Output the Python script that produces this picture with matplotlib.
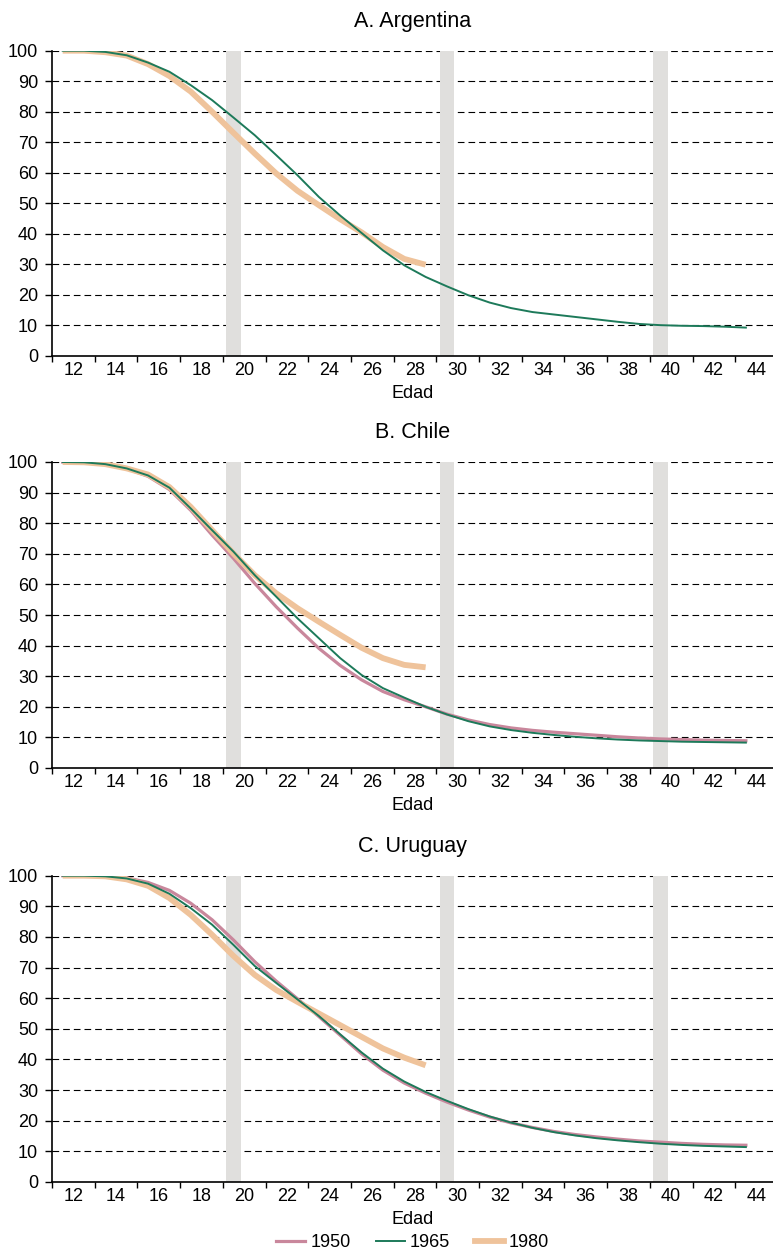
import matplotlib
matplotlib.use("Agg")
import matplotlib.pyplot as plt
from matplotlib.lines import Line2D

plt.rcParams['font.family'] = ['Liberation Sans', 'DejaVu Sans']

edades = list(range(12, 45))          # 12..44
edades_1980 = list(range(12, 30))     # 12..29
barras = [20, 30, 40]

# A. Argentina
arg_1965 = [100, 100, 99.6, 98.5, 96.1, 93.1, 88.7, 83.8, 78.1, 72.3, 65.8, 59.2,
            52.1, 46.0, 40.3, 34.6, 29.7, 25.9, 22.8, 19.9, 17.5, 15.7, 14.4, 13.6,
            12.8, 12.0, 11.2, 10.5, 10.1, 9.9, 9.8, 9.6, 9.3]
arg_1980 = [100, 100, 99.5, 98.4, 95.6, 91.7, 86.6, 80.0, 73.1, 66.3, 59.8, 54.1,
            49.4, 44.8, 40.5, 35.7, 31.8, 29.9]

# B. Chile
chi_1950 = [100, 99.9, 99.3, 97.8, 95.3, 91.0, 84.2, 76.1, 68.5, 60.3, 52.7, 45.7,
            39.1, 33.5, 28.8, 25.0, 22.3, 20.0, 17.6, 15.7, 14.2, 13.1, 12.3, 11.7,
            11.2, 10.7, 10.2, 9.8, 9.5, 9.3, 9.1, 9.0, 8.9]
chi_1965 = [100, 99.9, 99.3, 97.9, 95.6, 91.6, 84.8, 77.7, 70.7, 63.0, 56.0, 48.9,
            42.4, 35.9, 30.4, 26.1, 23.0, 20.0, 17.5, 15.3, 13.6, 12.4, 11.5, 10.8,
            10.2, 9.7, 9.3, 9.0, 8.8, 8.6, 8.5, 8.4, 8.3]
chi_1980 = [100, 99.9, 99.3, 97.9, 95.9, 91.8, 85.3, 77.7, 70.1, 63.0, 57.1, 52.2,
            47.8, 43.5, 39.3, 35.9, 33.7, 32.9]

# C. Uruguay
uru_1950 = [100, 100, 99.8, 99.3, 97.8, 95.2, 91.0, 85.6, 79.0, 71.9, 65.6, 59.8,
            54.0, 47.9, 41.8, 36.5, 32.3, 29.0, 26.1, 23.5, 21.2, 19.3, 17.8, 16.5,
            15.5, 14.7, 14.0, 13.4, 13.0, 12.6, 12.3, 12.1, 12.0]
uru_1965 = [100, 100, 99.8, 99.1, 97.4, 94.1, 89.4, 84.0, 77.4, 70.5, 65.0, 59.6,
            54.2, 48.2, 42.3, 37.0, 32.8, 29.4, 26.5, 23.8, 21.4, 19.4, 17.7, 16.3,
            15.2, 14.3, 13.6, 13.0, 12.5, 12.1, 11.8, 11.6, 11.4]
uru_1980 = [100, 100, 99.8, 98.8, 96.7, 92.7, 87.2, 80.7, 73.8, 67.6, 62.7, 58.8,
            55.0, 51.2, 47.4, 43.6, 40.6, 38.1]

paneles = [
    ("A. Argentina", None, arg_1965, arg_1980),
    ("B. Chile", chi_1950, chi_1965, chi_1980),
    ("C. Uruguay", uru_1950, uru_1965, uru_1980),
]

c_1950 = '#c9879c'
c_1965 = '#1d7a5a'
c_1980 = '#efc39b'
c_barra = '#e0dfdd'

W, H = 773, 1252
fig = plt.figure(figsize=(W / 100, H / 100), dpi=100)

# (top, bottom) pixel positions of each panel
pos = [(50.7, 356), (462, 768), (875.7, 1182)]
left, right = 52, 773

for (titulo, s50, s65, s80), (top, bot) in zip(paneles, pos):
    ax = fig.add_axes([left / W, 1 - bot / H, (right - left) / W, (bot - top) / H])
    ax.bar(barras, [100] * len(barras), width=0.66, color=c_barra, zorder=2)
    for v in range(10, 101, 10):
        ax.axhline(v, color='black', lw=0.8, ls=(0, (6, 3.6)), zorder=1)
    if s50 is not None:
        ax.plot(edades, s50, color=c_1950, lw=2.3, zorder=3)
    ax.plot(edades, s65, color=c_1965, lw=1.4, zorder=4)
    ax.plot(edades_1980, s80, color=c_1980, lw=4.2, zorder=3.5, solid_capstyle='butt')

    ax.set_xlim(11.5, 45.27)
    ax.set_ylim(0, 100)
    ax.set_yticks(range(0, 101, 10))
    ax.set_xticks([11.5 + 2 * k for k in range(17)])
    ax.set_xticklabels([])
    ax.set_xticks([12.5 + 2 * k for k in range(17)], minor=True)
    ax.set_xticklabels([str(12 + 2 * k) for k in range(17)], minor=True)
    ax.tick_params(axis='x', which='major', length=4, width=1, direction='out')
    ax.tick_params(axis='x', which='minor', length=0, pad=4, labelsize=13)
    ax.tick_params(axis='y', length=5, width=1, pad=5, labelsize=13)
    for s in ['top', 'right']:
        ax.spines[s].set_visible(False)
    for s in ['left', 'bottom']:
        ax.spines[s].set_linewidth(1.2)
        ax.spines[s].set_zorder(5)
    ax.set_title(titulo, fontsize=15.5, pad=17)
    ax.set_xlabel("Edad", fontsize=13, labelpad=5)

handles = [Line2D([], [], color=c_1950, lw=2.3),
           Line2D([], [], color=c_1965, lw=1.4),
           Line2D([], [], color=c_1980, lw=4.2)]
fig.legend(handles, ['1950', '1965', '1980'], loc='center', bbox_to_anchor=(0.534, 0.0072),
           ncol=3, frameon=False, fontsize=13, handlelength=1.6, handletextpad=0.28,
           columnspacing=1.4, borderpad=0)

fig.savefig('out.png', dpi=100)
